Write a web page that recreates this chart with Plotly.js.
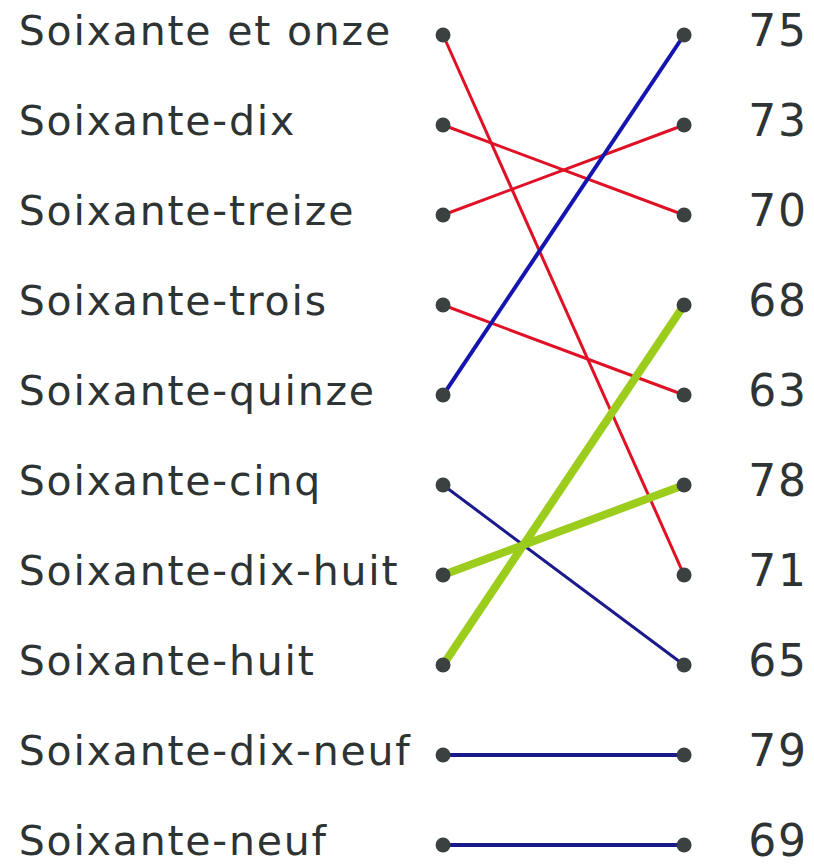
<!DOCTYPE html>
<html>
<head>
<meta charset="utf-8">
<script src="https://cdn.plot.ly/plotly-3.0.1.min.js"></script>
<style>
  html, body { margin: 0; padding: 0; background: #ffffff; }
  #chart { width: 814px; height: 867px; }
  #chart .textpoint text { letter-spacing: 1.8px; }
</style>
</head>
<body>
<div id="chart"></div>
<script>
// ---- data ----
const leftLabels = [
  "Soixante et onze", "Soixante-dix", "Soixante-treize", "Soixante-trois",
  "Soixante-quinze", "Soixante-cinq", "Soixante-dix-huit", "Soixante-huit",
  "Soixante-dix-neuf", "Soixante-neuf"
];
const leftValues = [71, 70, 73, 63, 75, 65, 78, 68, 79, 69];
const rightValues = [75, 73, 70, 68, 63, 78, 71, 65, 79, 69];

// ---- styles (pen colour / width per drawn link, by left row) ----
const linkColors = ["#e01025", "#e01025", "#e01025", "#e01025", "#1414b0",
                    "#1a1a8c", "#9ccc1c", "#9ccc1c", "#1a1a8c", "#1a1a8c"];
const linkWidths = [3, 3, 3, 3, 4, 3, 8, 8, 4, 4];

const traces = [];
leftValues.forEach((v, i) => {
  const j = rightValues.indexOf(v);
  traces.push({
    type: "scatter", mode: "lines",
    x: [0, 1], y: [i, j],
    line: { color: linkColors[i], width: linkWidths[i] },
    hoverinfo: "skip", showlegend: false
  });
});

const rows = leftLabels.map((_, i) => i);
// dots
traces.push({
  type: "scatter", mode: "markers",
  x: rows.map(() => 0).concat(rows.map(() => 1)),
  y: rows.concat(rows),
  marker: { color: "#3b4040", size: 15 },
  hoverinfo: "skip", showlegend: false
});
// left labels
traces.push({
  type: "scatter", mode: "text",
  x: rows.map(() => -1.76), y: rows,
  text: leftLabels, textposition: "middle right",
  textfont: { family: "DejaVu Sans", size: 41, color: "#2e3333" },
  hoverinfo: "skip", showlegend: false
});
// right numbers
traces.push({
  type: "scatter", mode: "text",
  x: rows.map(() => 1.39), y: rows,
  text: rightValues.map(String), textposition: "middle center",
  textfont: { family: "DejaVu Sans", size: 44, color: "#2e3333" },
  hoverinfo: "skip", showlegend: false
});

const layout = {
  width: 814, height: 867,
  margin: { l: 0, r: 0, t: 0, b: 0 },
  paper_bgcolor: "#ffffff", plot_bgcolor: "#ffffff",
  xaxis: { range: [-1.838, 1.539], visible: false, fixedrange: true },
  yaxis: { range: [9.244, -0.389], visible: false, fixedrange: true },
  showlegend: false
};

Plotly.newPlot("chart", traces, layout, { staticPlot: true, displayModeBar: false });
</script>
</body>
</html>
